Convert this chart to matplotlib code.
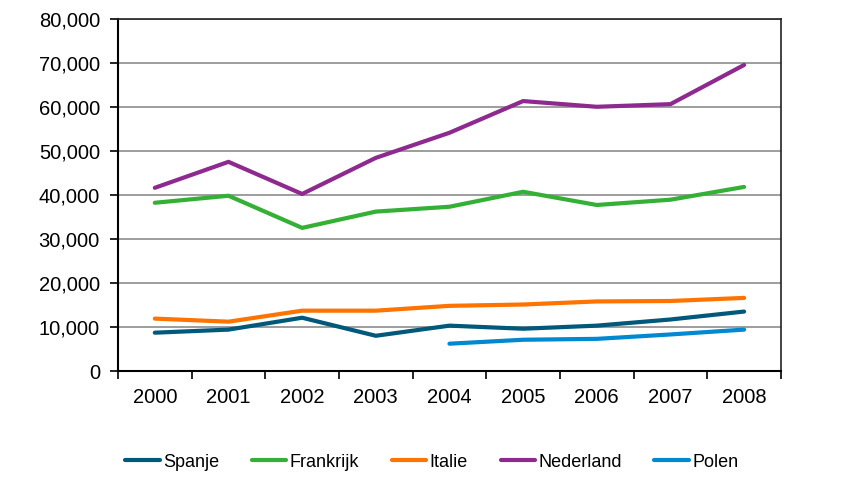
import matplotlib.pyplot as plt
import numpy as np
from matplotlib.ticker import FuncFormatter, FixedLocator

plt.rcParams['font.family'] = ['Liberation Sans', 'DejaVu Sans']

years = ['2000', '2001', '2002', '2003', '2004', '2005', '2006', '2007', '2008']

spanje = [8800, 9500, 12200, 8100, 10400, 9700, 10400, 11800, 13600]
frankrijk = [38300, 39900, 32600, 36300, 37400, 40800, 37800, 39000, 41900]
italie = [12000, 11300, 13800, 13800, 14900, 15200, 15900, 16000, 16700]
nederland = [41700, 47600, 40300, 48500, 54200, 61400, 60100, 60700, 69600]
# Polen only from 2004
polen = [None, None, None, None, 6300, 7200, 7400, 8400, 9500]

series = [
    ('Spanje', spanje, '#00587a'),
    ('Frankrijk', frankrijk, '#33b035'),
    ('Italie', italie, '#ff7300'),
    ('Nederland', nederland, '#8e2a8f'),
    ('Polen', polen, '#0088d0'),
]

fig = plt.figure(figsize=(8.47, 5.04), dpi=100)
ax = fig.add_axes((0.1393, 0.263, 0.7827, 0.699))

x = np.arange(len(years))
for name, vals, col in series:
    y = np.array([np.nan if v is None else v for v in vals], dtype=float)
    ax.plot(x, y, color=col, lw=3, label=name, solid_capstyle='round')

ax.set_xlim(-0.5, len(years) - 0.5)
ax.set_ylim(0, 80000)
ax.set_yticks(np.arange(0, 80001, 10000))
ax.yaxis.set_major_formatter(FuncFormatter(lambda v, p: f'{int(v):,}'))
ax.grid(axis='y', color='#8c8c8c', lw=1.2)
ax.set_axisbelow(True)

ax.set_xticks(x)
ax.set_xticklabels(years)
ax.xaxis.set_minor_locator(FixedLocator(np.arange(-0.5, len(years), 1)))
ax.tick_params(axis='x', which='major', length=0, pad=12, labelsize=14.5)
ax.tick_params(axis='x', which='minor', length=6, width=1.2, direction='out')
ax.tick_params(axis='y', length=6, width=1.2, direction='out', labelsize=14.5, pad=7)

for s in ['left', 'bottom']:
    ax.spines[s].set_linewidth(1.5)
    ax.spines[s].set_color('black')
for s in ['top', 'right']:
    ax.spines[s].set_linewidth(1.2)
    ax.spines[s].set_color('#222222')

fig.legend(loc='center', bbox_to_anchor=(0.51, 0.083), ncol=5, frameon=False,
           fontsize=13, handlelength=1.9, handletextpad=0.2, columnspacing=1.8)

fig.savefig('out.png', dpi=100)
